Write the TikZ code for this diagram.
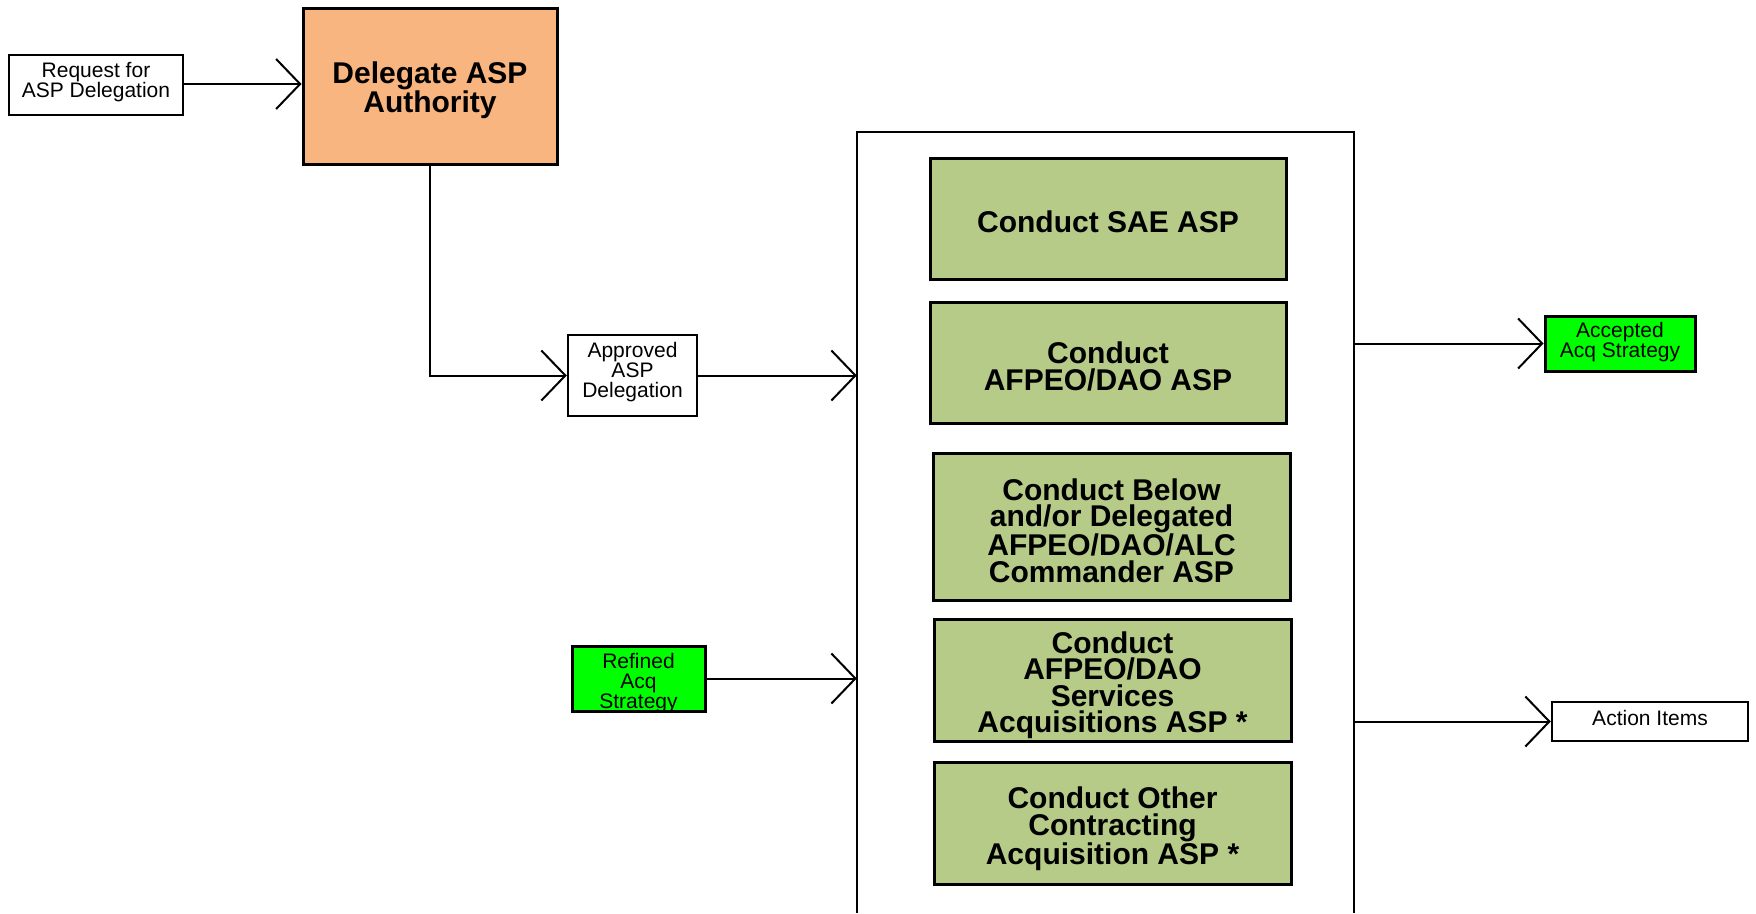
\documentclass[tikz,border=0pt]{standalone}
\usepackage{fontspec}
\setmainfont{Liberation Sans}
\usetikzlibrary{arrows.meta}
\definecolor{orangefill}{HTML}{F8B57F}
\definecolor{olivefill}{HTML}{B6CB88}
\definecolor{brightgreen}{HTML}{00FF00}
\tikzset{
  smalltext/.style={font=\fontsize{21}{20}\selectfont, align=center, inner sep=0pt},
  bigtext/.style={font=\fontsize{30}{26.5}\selectfont\bfseries, align=center, inner sep=0pt},
  whitebox/.style={draw=black, line width=2.5pt, fill=white, inner sep=0pt},
  greenbox/.style={draw=black, line width=3pt, fill=brightgreen, inner sep=0pt},
  activity/.style={draw=black, line width=3pt, fill=olivefill, inner sep=0pt},
  conn/.style={line width=2pt, -{Straight Barb[length=24pt,width=50pt]}},
}
\begin{document}
\begin{tikzpicture}[x=1pt,y=-1pt]
\useasboundingbox (0,0) rectangle (1756,913);
% container
\node[minimum width=497pt, minimum height=781pt, inner sep=0pt] (cont) at (1105.5,522.5) {};
\draw[line width=1.6pt] (cont.south west) -- (cont.north west) -- (cont.north east) -- (cont.south east);

\node[whitebox, minimum width=174pt, minimum height=60pt] (req) at (96,85) {};
\node[smalltext] (reqt) at ([yshift=3pt]req.center) {Request for\\ASP Delegation};
\node[draw=black, line width=3pt, fill=orangefill, inner sep=0pt, minimum width=254pt, minimum height=156pt] (del) at (430,86) {};
\node[bigtext] (delt) at ([yshift=-4pt]del.center) {Delegate ASP\\Authority};
\node[whitebox, minimum width=129pt, minimum height=81pt] (appr) at (632.5,375.5) {};
\node[smalltext] (apprt) at ([yshift=3pt]appr.center) {Approved\\ASP\\Delegation};
\node[draw=black, line width=3pt, fill=brightgreen, inner sep=0pt, minimum width=133pt, minimum height=65pt,
  path picture={\node[smalltext] (reft) at ([yshift=-5pt]path picture bounding box.center) {Refined\\Acq\\Strategy};}] (ref) at (638.5,678.5) {};

\node[activity, minimum width=356pt, minimum height=121pt] (g1) at (1108,218.5) {};
\node[bigtext] (g1t) at ([yshift=-3pt]g1.center) {Conduct SAE ASP};
\node[activity, minimum width=356pt, minimum height=121pt] (g2) at (1108,362.5) {};
\node[bigtext] (g2t) at ([yshift=-4pt]g2.center) {Conduct\\AFPEO/DAO ASP};
\node[activity, minimum width=357pt, minimum height=147pt] (g3) at (1111.5,526.5) {};
\node[bigtext] (g3t) at ([yshift=-4pt]g3.center) {Conduct Below\\and/or Delegated\\AFPEO/DAO/ALC\\Commander ASP};
\node[activity, minimum width=357pt, minimum height=122pt] (g4) at (1112.5,680) {};
\node[bigtext] (g4t) at ([yshift=-5pt]g4.center) {Conduct\\AFPEO/DAO\\Services\\Acquisitions ASP *};
\node[activity, minimum width=357pt, minimum height=122pt] (g5) at (1112.5,823) {};
\node[bigtext] (g5t) at ([yshift=-6pt]g5.center) {Conduct Other\\Contracting\\Acquisition ASP *};

\node[greenbox, minimum width=150pt, minimum height=55pt] (acc) at (1620,343.5) {};
\node[smalltext] (acct) at ([yshift=1pt]acc.center) {Accepted\\Acq Strategy};
\node[whitebox, minimum width=196pt, minimum height=39pt] (act) at (1650,721.5) {};
\node[smalltext] (actt) at ([yshift=4pt]act.center) {Action Items};

% connectors
\draw[conn] ([yshift=1pt]req.east) -- ([yshift=1pt]req.east -| del.west);
\draw[conn] (del.south) |- (appr.west);
\draw[conn] (appr.east) -- (appr.east -| cont.west);
\draw[conn] (ref.east) -- (ref.east -| cont.west);
\draw[conn] (cont.east |- acc.west) -- (acc.west);
\draw[conn] (cont.east |- act.west) -- (act.west);
\end{tikzpicture}
\end{document}
